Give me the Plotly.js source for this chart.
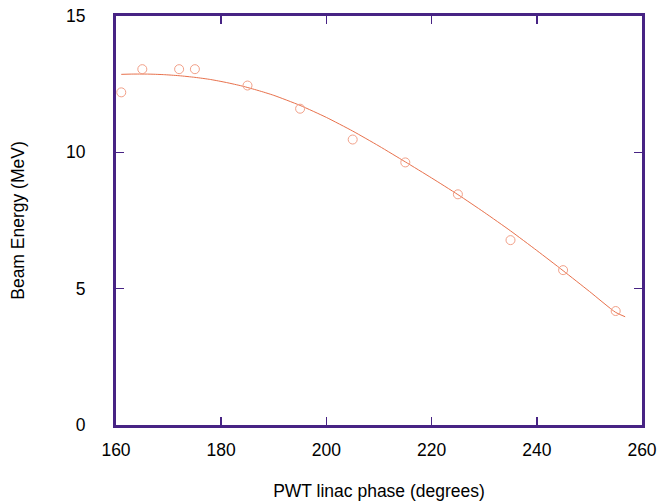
<!DOCTYPE html>
<html><head><meta charset="utf-8">
<script src="https://cdn.plot.ly/plotly-3.0.1.min.js"></script>
<style>html,body{margin:0;padding:0;background:#fff}#plot{width:658px;height:502px}</style>
</head><body><div id="plot"></div>
<script>
// measured points
const phase = [161, 165, 172, 175, 185, 195, 205, 215, 225, 235, 245, 255];
const energy = [12.2, 13.05, 13.05, 13.05, 12.45, 11.6, 10.47, 9.63, 8.46, 6.78, 5.68, 4.18];
// fitted curve
const fitPhase = [161, 163, 166, 169, 172, 175, 178, 181, 184, 187, 190, 195, 200, 205, 210, 215, 220, 225, 230, 235, 240, 245, 250, 255, 256.8];
const fitEnergy = [12.86, 12.87, 12.87, 12.85, 12.81, 12.75, 12.67, 12.56, 12.43, 12.27, 12.09, 11.72, 11.28, 10.78, 10.23, 9.65, 9.06, 8.45, 7.8, 7.12, 6.4, 5.66, 4.9, 4.13, 3.97];
const xTicks = [160, 180, 200, 220, 240, 260];
const yTicks = [0, 5, 10, 15];

const frame = '#472384';
const fnt = {family: 'Liberation Sans, Arial, sans-serif', size: 17.5, color: '#000'};
const axisCommon = {
  showline: true, linecolor: frame, linewidth: 3, mirror: 'ticks',
  ticks: 'inside', ticklen: 8, tickwidth: 1.5, tickcolor: frame,
  showgrid: false, zeroline: false, tickfont: fnt
};
Plotly.newPlot('plot', [
  {x: fitPhase, y: fitEnergy, mode: 'lines', line: {color: '#e8714c', width: 1, shape: 'spline', smoothing: 0.6}, hoverinfo: 'skip'},
  {x: phase, y: energy, mode: 'markers',
   marker: {symbol: 'circle-open', size: 9, color: '#f2a088', line: {width: 1, color: '#f2a088'}}}
], {
  width: 658, height: 502, showlegend: false,
  paper_bgcolor: '#fff', plot_bgcolor: '#fff',
  margin: {l: 116, r: 16, t: 16, b: 77},
  xaxis: Object.assign({}, axisCommon, {range: [160, 260], tickvals: xTicks, ticktext: xTicks.map(String),
    ticklabelstandoff: 7,
    title: {text: 'PWT linac phase (degrees)', font: fnt, standoff: 26}}),
  yaxis: Object.assign({}, axisCommon, {range: [0, 15], tickvals: yTicks, ticktext: yTicks.map(String),
    ticklabelstandoff: 24,
    title: {text: 'Beam Energy (MeV)', font: fnt, standoff: 37}})
}, {displayModeBar: false, staticPlot: true});
</script></body></html>
